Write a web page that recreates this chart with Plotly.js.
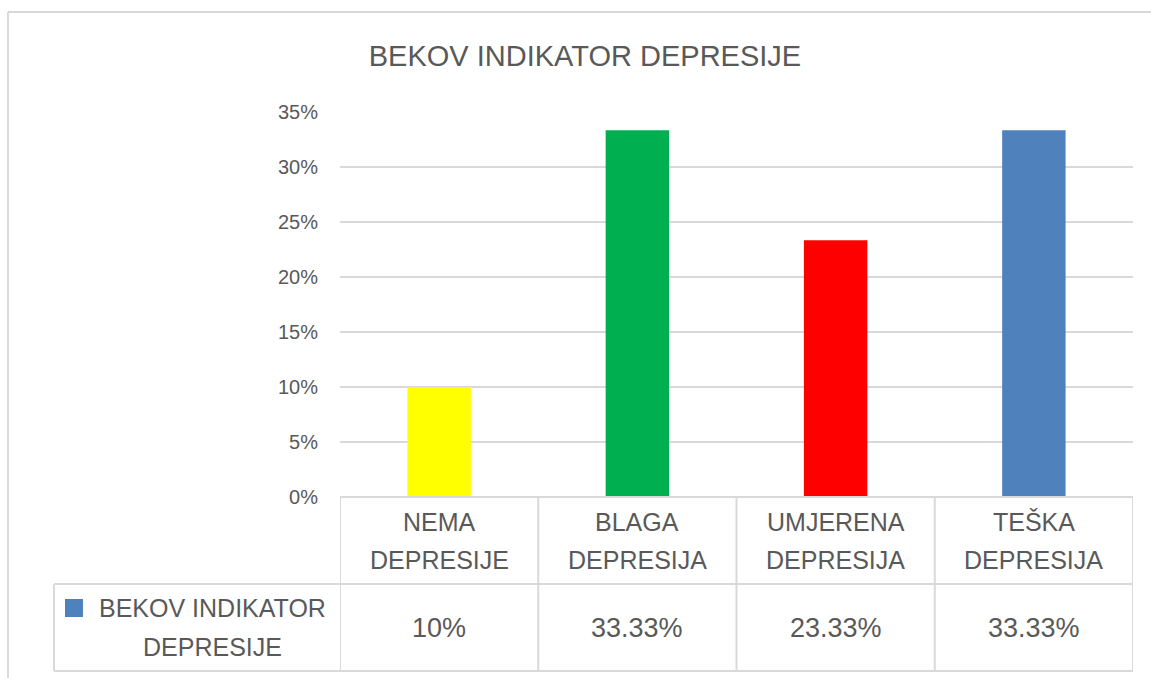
<!DOCTYPE html>
<html>
<head>
<meta charset="utf-8">
<script src="https://cdn.plot.ly/plotly-3.0.1.min.js"></script>
<style>html,body{margin:0;padding:0;background:#fff;}#chart{width:1151px;height:678px;}</style>
</head>
<body>
<div id="chart"></div>
<script>
// ---- data ----
const chartTitle = "BEKOV INDIKATOR DEPRESIJE";
const seriesName = "BEKOV INDIKATOR DEPRESIJE";
const categories = ["NEMA DEPRESIJE", "BLAGA DEPRESIJA", "UMJERENA DEPRESIJA", "TEŠKA DEPRESIJA"];
const categoryLines = [["NEMA", "DEPRESIJE"], ["BLAGA", "DEPRESIJA"], ["UMJERENA", "DEPRESIJA"], ["TEŠKA", "DEPRESIJA"]];
const legendLines = ["BEKOV INDIKATOR", "DEPRESIJE"];
const values = [0.10, 0.3333, 0.2333, 0.3333];
const tableLabels = ["10%", "33.33%", "23.33%", "33.33%"];
const barColors = ["#FFFF00", "#00B050", "#FF0000", "#4F81BD"];
const yTicks = [0, 0.05, 0.10, 0.15, 0.20, 0.25, 0.30, 0.35];

// ---- geometry (pixels -> paper) ----
const W = 1151, H = 678;
const px = x => x / W;
const py = y => 1 - y / H;
const plotL = 340, plotR = 1133, plotT = 112, plotB = 497;
const rowMid = 584, tableB = 671, legendL = 54;
const textColor = "#595959";
const lineColor = "#d9d9d9";
const font = "Liberation Sans, Arial, sans-serif";

const trace = {
  type: "bar",
  x: categories,
  y: values,
  width: 0.32,
  marker: {color: barColors},
  hoverinfo: "skip",
  showlegend: false
};

const shapes = [];
const lineStyle = {color: lineColor, width: 2};
// outer chart border (left and top)
shapes.push({type: "line", xref: "paper", yref: "paper", x0: px(8), x1: px(8), y0: py(12), y1: py(700), line: lineStyle});
shapes.push({type: "line", xref: "paper", yref: "paper", x0: px(8), x1: px(1200), y0: py(12), y1: py(12), line: lineStyle});
// data table horizontal lines
shapes.push({type: "line", xref: "x", yref: "paper", x0: -0.5, x1: categories.length - 0.5, y0: py(plotB), y1: py(plotB), line: lineStyle});
shapes.push({type: "line", xref: "paper", yref: "paper", x0: px(legendL), x1: px(plotR), y0: py(rowMid), y1: py(rowMid), line: lineStyle});
shapes.push({type: "line", xref: "paper", yref: "paper", x0: px(legendL), x1: px(plotR), y0: py(tableB), y1: py(tableB), line: lineStyle});
// vertical lines
for (let i = 0; i <= categories.length; i++) {
  shapes.push({type: "line", xref: "x", yref: "paper", x0: i - 0.5, x1: i - 0.5, y0: py(plotB), y1: py(tableB), line: lineStyle});
}
shapes.push({type: "line", xref: "paper", yref: "paper", x0: px(legendL), x1: px(legendL), y0: py(rowMid), y1: py(tableB), line: lineStyle});
// legend key
shapes.push({type: "rect", xref: "paper", yref: "paper", x0: px(65), x1: px(83), y0: py(599), y1: py(617), fillcolor: "#4F81BD", line: {width: 0}});

const annotations = [];
const catLineY = [522, 560];
categories.forEach((c, i) => {
  categoryLines[i].forEach((ln, k) => {
    annotations.push({
      x: c, xref: "x", y: py(catLineY[k]), yref: "paper",
      text: ln, showarrow: false,
      xanchor: "center", yanchor: "middle",
      font: {family: font, size: 25, color: textColor}
    });
  });
  annotations.push({
    x: c, xref: "x", y: py(628), yref: "paper",
    text: tableLabels[i], showarrow: false,
    xanchor: "center", yanchor: "middle",
    font: {family: font, size: 27, color: textColor}
  });
});
const legLineY = [608, 647];
legendLines.forEach((ln, k) => {
  annotations.push({
    x: px(212), xref: "paper", y: py(legLineY[k]), yref: "paper",
    text: ln, showarrow: false, xanchor: "center", yanchor: "middle",
    font: {family: font, size: 25, color: textColor}
  });
});

const layout = {
  width: W, height: H,
  margin: {l: 0, r: 0, t: 0, b: 0},
  paper_bgcolor: "#ffffff",
  plot_bgcolor: "#ffffff",
  title: {
    text: chartTitle,
    x: px(585), xref: "paper", xanchor: "center",
    y: py(56), yref: "container", yanchor: "middle",
    font: {family: font, size: 29, color: textColor}
  },
  xaxis: {
    domain: [px(plotL), px(plotR)],
    range: [-0.5, categories.length - 0.5],
    showticklabels: false,
    showgrid: false, zeroline: false, showline: false, ticks: "",
    fixedrange: true
  },
  yaxis: {
    domain: [py(plotB), py(plotT)],
    range: [0, 0.35],
    tickvals: yTicks,
    tickformat: ".0%",
    showgrid: true, gridcolor: lineColor, gridwidth: 2,
    zeroline: true, zerolinecolor: lineColor, zerolinewidth: 2,
    showline: false, ticks: "",
    ticklabelstandoff: 21,
    tickfont: {family: font, size: 20, color: textColor},
    fixedrange: true
  },
  shapes: shapes,
  annotations: annotations,
  showlegend: false
};

Plotly.newPlot("chart", [trace], layout, {displayModeBar: false, staticPlot: true});
</script>
</body>
</html>
